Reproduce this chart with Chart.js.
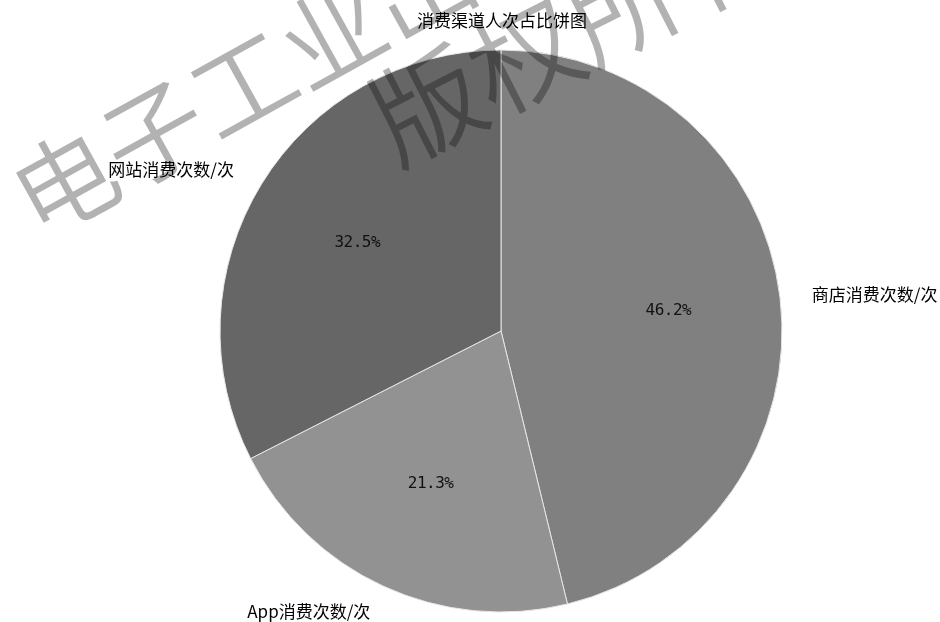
<!DOCTYPE html>
<html>
<head>
<meta charset="utf-8">
<script src="https://cdn.jsdelivr.net/npm/chart.js@4.4.1/dist/chart.umd.min.js"></script>
<style>
  html, body { margin: 0; padding: 0; background: #ffffff; }
  #wrap { width: 940px; height: 622px; }
</style>
</head>
<body>
<div id="wrap"><canvas id="c" width="940" height="622"></canvas></div>
<script>
// Channel shares of customer visits (percent)
const categories = ['商店消费次数/次', 'App消费次数/次', '网站消费次数/次'];
const shares = [46.2, 21.3, 32.5];
const sliceColors = ['#808080', '#929292', '#666666'];
const chartTitle = '消费渠道人次占比饼图';
const watermarkLines = ['电子工业出版社', '版权所有'];

const CJK = '"Noto Sans CJK SC", "Noto Sans", sans-serif';

// Labels: percentage inside each wedge, category name just outside it
const pieLabels = {
  id: 'pieLabels',
  afterDatasetsDraw(chart) {
    const ctx = chart.ctx;
    const meta = chart.getDatasetMeta(0);
    ctx.save();
    meta.data.forEach((arc, i) => {
      const p = arc.getProps(['x', 'y', 'startAngle', 'endAngle', 'outerRadius'], true);
      const mid = (p.startAngle + p.endAngle) / 2;
      const c = Math.cos(mid), s = Math.sin(mid);
      // percentage
      ctx.fillStyle = '#111111';
      ctx.font = '16px "DejaVu Sans Mono", monospace';
      if ('letterSpacing' in ctx) ctx.letterSpacing = '-0.5px';
      ctx.textAlign = 'center';
      ctx.textBaseline = 'middle';
      ctx.fillText(shares[i].toFixed(1) + '%', p.x + c * p.outerRadius * 0.6, p.y + s * p.outerRadius * 0.6);
      if ('letterSpacing' in ctx) ctx.letterSpacing = '0px';
      // category
      ctx.fillStyle = '#000000';
      ctx.font = '17px ' + CJK;
      ctx.textAlign = c >= 0 ? 'left' : 'right';
      ctx.fillText(categories[i], p.x + c * (p.outerRadius * 1.1 + 4), p.y + s * p.outerRadius * 1.1);
    });
    // title
    const area = chart.chartArea;
    ctx.font = '17px ' + CJK;
    ctx.textAlign = 'center';
    ctx.fillStyle = '#000000';
    ctx.fillText(chartTitle, (area.left + area.right) / 2 + 1, 21);
    ctx.restore();
  }
};

// Diagonal copyright watermark laid over the whole figure
const watermark = {
  id: 'watermark',
  afterDraw(chart) {
    const ctx = chart.ctx;
    const rows = [
      { x: 20, y: 207, size: 102, angle: -29 },
      { x: 378, y: 130, size: 110, angle: -27 }
    ];
    ctx.save();
    ctx.fillStyle = 'rgba(0,0,0,0.3)';
    ctx.textAlign = 'left';
    ctx.textBaseline = 'middle';
    watermarkLines.forEach((line, i) => {
      const r = rows[i];
      ctx.save();
      ctx.font = '350 ' + r.size + 'px ' + CJK;
      ctx.translate(r.x, r.y);
      ctx.rotate(r.angle * Math.PI / 180);
      ctx.fillText(line, 0, 0);
      ctx.restore();
    });
    ctx.restore();
  }
};

function draw() {
  new Chart(document.getElementById('c'), {
    type: 'pie',
    data: {
      labels: categories,
      datasets: [{
        data: shares,
        backgroundColor: sliceColors,
        borderColor: '#e6e6e6',
        borderWidth: 1,
        hoverOffset: 0
      }]
    },
    options: {
      responsive: false,
      animation: false,
      events: [],
      radius: 281,
      layout: { padding: { left: 62, right: 0, top: 50, bottom: 10 } },
      plugins: {
        legend: { display: false },
        tooltip: { enabled: false },
        title: { display: false }
      }
    },
    plugins: [pieLabels, watermark]
  });
}

Promise.all([
  document.fonts.load('17px "Noto Sans CJK SC"', '消费'),
  document.fonts.load('350 102px "Noto Sans CJK SC"', '电子'),
  document.fonts.load('16px "DejaVu Sans Mono"', '0')
]).catch(() => {}).then(draw);
</script>
</body>
</html>
